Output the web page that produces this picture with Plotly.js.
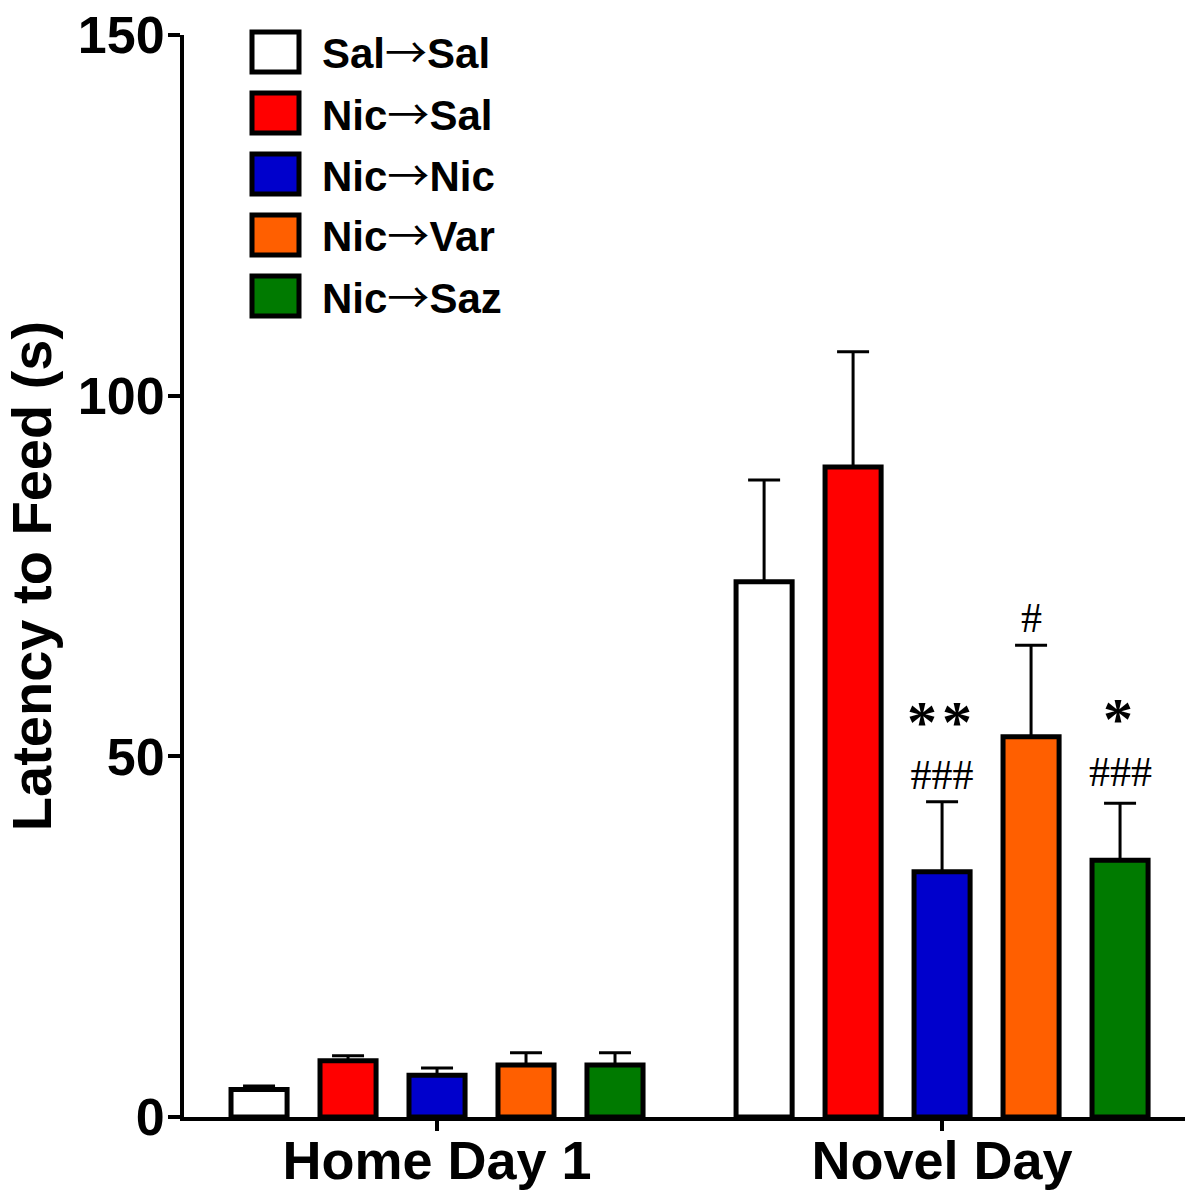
<!DOCTYPE html>
<html>
<head>
<meta charset="utf-8">
<script src="https://cdn.plot.ly/plotly-3.0.1.min.js"></script>
<style>html,body{margin:0;padding:0;background:#fff;}#chart{width:1185px;height:1190px;}</style>
</head>
<body>
<div id="chart"></div>
<script>
// ---- data ----
const categories = ['Home Day 1', 'Novel Day'];
const groupNames = ['Sal\u2192Sal', 'Nic\u2192Sal', 'Nic\u2192Nic', 'Nic\u2192Var', 'Nic\u2192Saz'];
const salSal = [3.8, 74.2];
const salSalErr = [0.5, 14.1];
const nicSal = [7.8, 90.1];
const nicSalErr = [0.7, 16.0];
const nicNic = [5.8, 34.0];
const nicNicErr = [1.0, 9.7];
const nicVar = [7.2, 52.7];
const nicVarErr = [1.7, 12.7];
const nicSaz = [7.2, 35.6];
const nicSazErr = [1.7, 7.9];
const yTicks = [0, 50, 100, 150];
// significance marks: [series index, category index, star text, hash text]
const sigMarks = [
  [2, 1, '**', '###'],
  [3, 1, '', '#'],
  [4, 1, '*', '###']
];

const values = [salSal, nicSal, nicNic, nicVar, nicSaz];
const errors = [salSalErr, nicSalErr, nicNicErr, nicVarErr, nicSazErr];
const colors = ['#FFFFFF', '#FF0000', '#0000CC', '#FF5F00', '#007A00'];

const bargap = 0.119, bargroupgap = 0.37;
const sansBold = {family: 'Liberation Sans, Arial, sans-serif', color: '#000', weight: 'bold'};

const traces = groupNames.map((name, i) => ({
  type: 'bar',
  name: name,
  x: categories,
  y: values[i],
  marker: {color: colors[i], line: {color: '#000', width: 5}},
  error_y: {type: 'data', array: errors[i], arrayminus: categories.map(() => 0), symmetric: false,
            color: '#000', thickness: 3, width: 16},
  showlegend: false
}));

// annotation positions computed from the bar layout
const slot = (1 - bargap) / groupNames.length;
const annotations = [];
sigMarks.forEach(([s, c, star, hash]) => {
  const xpos = c + (s - (groupNames.length - 1) / 2) * slot;
  const ytop = values[s][c] + errors[s][c];
  const text = (star ? '<span style="font-size:60px;font-weight:bold;letter-spacing:5px;baseline-shift:-8px">' + star + '</span><br>' : '') + hash;
  annotations.push({
    x: xpos, y: ytop, xref: 'x', yref: 'y',
    text: text, showarrow: false, xanchor: 'center', yanchor: 'bottom',
    yshift: s === 4 ? 6 : 2,
    font: {family: 'Liberation Serif, Times New Roman, serif', size: 42, color: '#000'}
  });
});

// custom legend (large swatches)
const W = 1185, H = 1190, mL = 184, mR = 0, mT = 35, mB = 73;
const pw = W - mL - mR, ph = H - mT - mB;
const px2x = p => (p - mL) / pw;
const py2y = p => (H - mB - p) / ph;
const shapes = [];
const arrowSpan = '<span style="font-family:\'Noto Sans CJK SC\';font-weight:normal">\u2192</span>';
groupNames.forEach((name, i) => {
  const cy = 52 + 61 * i;
  shapes.push({type: 'rect', xref: 'paper', yref: 'paper',
    x0: px2x(252), x1: px2x(299), y0: py2y(cy + 20), y1: py2y(cy - 20),
    fillcolor: colors[i], line: {color: '#000', width: 5}});
  annotations.push({xref: 'paper', yref: 'paper', x: px2x(320), y: py2y(cy - 2),
    xanchor: 'left', yanchor: 'middle', showarrow: false,
    text: name.replace('\u2192', arrowSpan),
    font: Object.assign({}, sansBold, {size: 42})});
});

const layout = {
  width: W, height: H,
  margin: {l: mL, r: mR, t: mT, b: mB, pad: 0},
  paper_bgcolor: '#fff', plot_bgcolor: '#fff',
  barmode: 'group', bargap: bargap, bargroupgap: bargroupgap,
  xaxis: {
    type: 'category', range: [-0.501, 1.481],
    showline: true, linecolor: '#000', linewidth: 4,
    ticks: 'outside', ticklen: 10, tickwidth: 4, tickcolor: '#000',
    ticklabelstandoff: -17,
    showgrid: false, zeroline: false,
    tickfont: Object.assign({}, sansBold, {size: 54})
  },
  yaxis: {
    range: [0, 150], tickvals: yTicks, ticktext: yTicks.map(String),
    showline: true, linecolor: '#000', linewidth: 4,
    ticks: 'outside', ticklen: 12, tickwidth: 4, tickcolor: '#000',
    ticklabelstandoff: -7,
    showgrid: false, zeroline: false,
    tickfont: Object.assign({}, sansBold, {size: 52}),
    title: {text: 'Latency to Feed (s)', font: Object.assign({}, sansBold, {size: 56}), standoff: 20}
  },
  shapes: shapes,
  annotations: annotations
};

Plotly.newPlot('chart', traces, layout, {displayModeBar: false, staticPlot: true});
</script>
</body>
</html>
